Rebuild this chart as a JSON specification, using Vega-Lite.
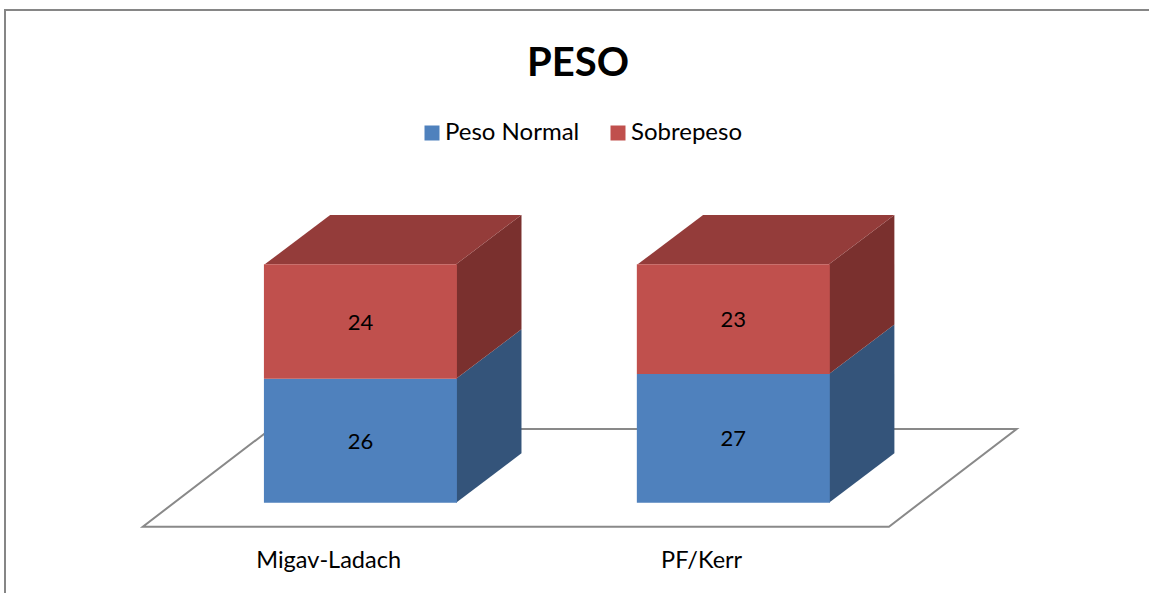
{
  "$schema": "https://vega.github.io/schema/vega-lite/v6.json",
  "width": 1146,
  "height": 600,
  "autosize": {"type": "none"},
  "padding": {"left": 5, "top": 10, "right": 0, "bottom": 0},
  "background": "white",
  "title": {"text": "PESO", "font": "Lato", "fontSize": 40, "fontWeight": "bold", "color": "#000000", "anchor": "middle", "baseline": "alphabetic", "offset": -67, "dy": 39},
  "data": {"values": [
    {"grupo": "Migav-Ladach", "serie": "Peso Normal", "valor": 26},
    {"grupo": "Migav-Ladach", "serie": "Sobrepeso", "valor": 24},
    {"grupo": "PF/Kerr", "serie": "Peso Normal", "valor": 27},
    {"grupo": "PF/Kerr", "serie": "Sobrepeso", "valor": 23}
  ]},
  "transform": [
    {"calculate": "indexof(['Migav-Ladach','PF/Kerr'], datum.grupo) + 1", "as": "cat"},
    {"stack": "valor", "groupby": ["grupo"], "sort": [{"field": "serie", "order": "ascending"}], "as": ["v0", "v1"]}
  ],
  "layer": [
    {
      "transform": [
        {"aggregate": [{"op": "min", "field": "cat", "as": "cmin"}, {"op": "max", "field": "cat", "as": "cmax"}]},
        {"calculate": "[0,1]", "as": "k"},
        {"flatten": ["k"]},
        {"calculate": "datum.cmin - 0.5835 + datum.k*0.3424", "as": "fx0"},
        {"calculate": "datum.cmax + 0.4173 + datum.k*0.3424", "as": "fx1"},
        {"calculate": "datum.k == 1 ? 15.46 : -5.03", "as": "fy"}
      ],
      "mark": {"type": "area", "orient": "horizontal", "fill": "white", "stroke": "#898989", "strokeWidth": 2},
      "encoding": {
        "y": {"field": "fy", "type": "quantitative", "scale": {"domain": [-22.51, 103.36], "nice": false, "zero": false}, "axis": null},
        "x": {"field": "fx0", "type": "quantitative", "stack": null, "scale": {"domain": [0.0603, 3.1066], "nice": false, "zero": false}, "axis": null},
        "x2": {"field": "fx1"}
      }
    },
    {
      "transform": [
        {"filter": "datum.serie == 'Peso Normal'"},
        {"calculate": "[0,1]", "as": "k"},
        {"flatten": ["k"]},
        {"calculate": "datum.cat + 0.2565 + datum.k*0.1754", "as": "sx"},
        {"calculate": "datum.v0 + datum.k*10.38", "as": "sy0"},
        {"calculate": "datum.v1 + datum.k*10.38", "as": "sy1"}
      ],
      "mark": {"type": "area", "orient": "vertical", "fill": "#34547A"},
      "encoding": {
        "x": {"field": "sx", "type": "quantitative", "scale": {"domain": [0.0603, 3.1066], "nice": false, "zero": false}, "axis": null},
        "y": {"field": "sy1", "type": "quantitative", "stack": null, "scale": {"domain": [-22.51, 103.36], "nice": false, "zero": false}, "axis": null},
        "y2": {"field": "sy0"},
        "detail": {"field": "grupo"}
      }
    },
    {
      "transform": [
        {"filter": "datum.serie == 'Sobrepeso'"},
        {"calculate": "[0,1]", "as": "k"},
        {"flatten": ["k"]},
        {"calculate": "datum.cat + 0.2565 + datum.k*0.1754", "as": "sx"},
        {"calculate": "datum.v0 + datum.k*10.38", "as": "sy0"},
        {"calculate": "datum.v1 + datum.k*10.38", "as": "sy1"}
      ],
      "mark": {"type": "area", "orient": "vertical", "fill": "#7A302E"},
      "encoding": {
        "x": {"field": "sx", "type": "quantitative", "scale": {"domain": [0.0603, 3.1066], "nice": false, "zero": false}, "axis": null},
        "y": {"field": "sy1", "type": "quantitative", "stack": null, "scale": {"domain": [-22.51, 103.36], "nice": false, "zero": false}, "axis": null},
        "y2": {"field": "sy0"},
        "detail": {"field": "grupo"}
      }
    },
    {
      "transform": [
        {"filter": "datum.serie == 'Sobrepeso'"},
        {"calculate": "[0,1]", "as": "k"},
        {"flatten": ["k"]},
        {"calculate": "datum.cat - 0.2565 + datum.k*0.1754", "as": "tx0"},
        {"calculate": "datum.cat + 0.2565 + datum.k*0.1754", "as": "tx1"},
        {"calculate": "datum.v1 + datum.k*10.38", "as": "ty"}
      ],
      "mark": {"type": "area", "orient": "horizontal", "fill": "#943C3A"},
      "encoding": {
        "y": {"field": "ty", "type": "quantitative", "scale": {"domain": [-22.51, 103.36], "nice": false, "zero": false}, "axis": null},
        "x": {"field": "tx0", "type": "quantitative", "stack": null, "scale": {"domain": [0.0603, 3.1066], "nice": false, "zero": false}, "axis": null},
        "x2": {"field": "tx1"},
        "detail": {"field": "grupo"}
      }
    },
    {
      "mark": {"type": "bar", "size": 193},
      "encoding": {
        "x": {"field": "cat", "type": "quantitative", "scale": {"domain": [0.0603, 3.1066], "nice": false, "zero": false}, "axis": null},
        "y": {"field": "v1", "type": "quantitative", "scale": {"domain": [-22.51, 103.36], "nice": false, "zero": false}, "axis": null},
        "y2": {"field": "v0"},
        "color": {
          "field": "serie", "type": "nominal",
          "scale": {"domain": ["Peso Normal", "Sobrepeso"], "range": ["#4F81BD", "#C0504D"]},
          "legend": {"orient": "none", "legendX": 415, "legendY": 111, "direction": "horizontal", "title": null, "symbolType": "square", "symbolSize": 225, "symbolStrokeWidth": 0, "labelFont": "Lato", "labelFontSize": 24, "labelColor": "#000000", "labelOffset": 1, "columnPadding": 26}
        }
      }
    },
    {
      "transform": [{"calculate": "(datum.v0 + datum.v1) / 2", "as": "ym"}],
      "mark": {"type": "text", "font": "Lato", "fontSize": 22, "color": "#000000", "baseline": "middle", "dy": 1},
      "encoding": {
        "x": {"field": "cat", "type": "quantitative", "scale": {"domain": [0.0603, 3.1066], "nice": false, "zero": false}, "axis": null},
        "y": {"field": "ym", "type": "quantitative", "scale": {"domain": [-22.51, 103.36], "nice": false, "zero": false}, "axis": null},
        "text": {"field": "valor", "type": "quantitative"}
      }
    },
    {
      "transform": [
        {"filter": "datum.serie == 'Peso Normal'"},
        {"calculate": "datum.cat - 0.0851", "as": "lx"}
      ],
      "mark": {"type": "text", "font": "Lato", "fontSize": 23.5, "color": "#000000", "baseline": "alphabetic"},
      "encoding": {
        "x": {"field": "lx", "type": "quantitative", "scale": {"domain": [0.0603, 3.1066], "nice": false, "zero": false}, "axis": null},
        "y": {"datum": -13.76, "type": "quantitative", "scale": {"domain": [-22.51, 103.36], "nice": false, "zero": false}, "axis": null},
        "text": {"field": "grupo", "type": "nominal"}
      }
    }
  ],
  "config": {"view": {"stroke": "#868686", "strokeWidth": 2}, "font": "Lato"}
}
